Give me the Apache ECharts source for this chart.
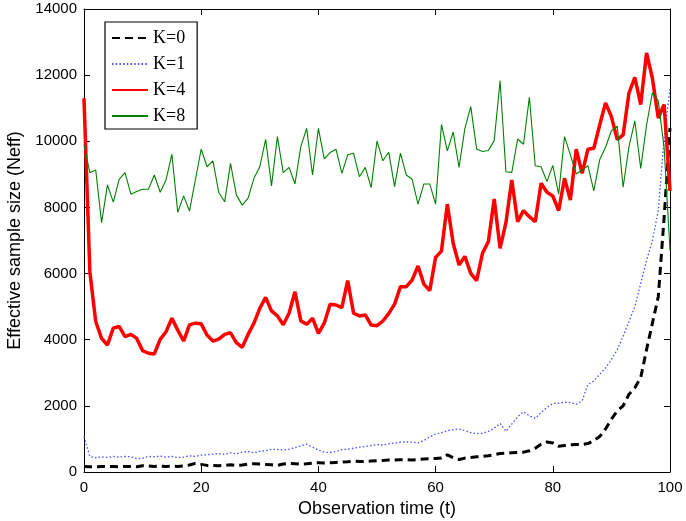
<!DOCTYPE html>
<html>
<head>
<meta charset="utf-8">
<script src="https://cdn.jsdelivr.net/npm/echarts@6/dist/echarts.min.js"></script>
<style>html,body{margin:0;padding:0;background:#fff}#c{width:686px;height:521px}</style>
</head>
<body>
<div id="c"></div>
<script>
var xTicks = [0, 20, 40, 60, 80, 100];
var yTicks = [0, 2000, 4000, 6000, 8000, 10000, 12000, 14000];
var seriesNames = ['K=0', 'K=1', 'K=4', 'K=8'];

var k0 = [170,160,160,170,160,170,160,170,170,160,190,180,170,180,170,180,170,180,210,260,
  230,200,200,190,200,220,200,210,240,250,240,230,220,200,240,260,250,240,250,270,
  280,270,280,290,300,310,330,320,320,330,340,350,360,360,370,370,360,380,390,400,
  410,420,520,430,380,420,440,460,470,490,520,560,570,580,590,600,640,720,840,910,
  880,780,800,820,830,830,860,950,1070,1300,1600,1850,2000,2350,2550,2850,3700,4500,5300,7700,
  10400];
var k1 = [1070,470,430,460,440,470,450,470,460,400,420,470,460,480,450,470,440,450,490,470,
  510,520,540,560,530,580,550,600,620,580,630,640,690,680,670,690,740,790,840,750,
  660,600,590,620,680,690,720,750,770,800,830,810,850,880,900,910,900,880,950,1060,
  1150,1180,1250,1280,1300,1250,1190,1160,1170,1230,1320,1470,1230,1450,1670,1820,1700,1620,1800,1950,
  2070,2080,2110,2100,2050,2150,2650,2750,2950,3150,3400,3700,4100,4550,5000,5700,6400,7000,7900,10100,
  11600];
var k4 = [11300,6050,4550,4040,3840,4350,4400,4090,4160,4040,3670,3590,3570,4010,4240,4650,4290,3960,4450,4500,
  4480,4140,3960,4020,4160,4210,3910,3770,4160,4500,4950,5280,4870,4720,4450,4800,5450,4570,4470,4650,
  4190,4500,5070,5050,4970,5790,4800,4720,4750,4445,4424,4566,4790,5075,5604,5604,5806,6229,5680,5483,
  6490,6680,8100,6915,6260,6520,6008,5785,6613,6965,8256,6764,7540,8830,7570,7903,7721,7570,8730,8458,
  8346,7903,8881,8225,9758,9032,9758,9788,10493,11160,10745,10050,10191,11460,11930,11110,12670,11900,10705,11110,
  8500];
var k8 = [9900,9050,9130,7540,8680,8160,8850,9050,8400,8480,8550,8550,8980,8460,8830,9610,7850,8350,7890,8830,
  9760,9230,9410,8450,8170,9330,8380,8070,8280,8880,9230,10060,8650,10140,9050,9210,8710,9840,10390,8980,
  10390,9470,9660,9760,9030,9590,9640,8930,9210,8600,10010,9410,9670,8630,9640,8980,8850,8100,8710,8710,
  8100,10510,9710,10280,9210,10390,11050,9770,9690,9720,10020,11830,9080,9060,10070,9910,11330,9260,9230,8780,
  9270,8400,10140,9590,9010,9130,9260,8500,9440,9820,10320,10460,8610,9840,10620,9180,10490,11470,11220,9800,
  6700];

function pairs(arr) { return arr.map(function (v, i) { return [i, v]; }); }

var sansFont = 'Liberation Sans';
var chart = echarts.init(document.getElementById('c'), null, {renderer: 'canvas'});
var tickStyle = {show: true, inside: true, length: 6, lineStyle: {color: '#000', width: 1}};
var lineStyleAxis = {show: true, onZero: false, lineStyle: {color: '#000', width: 1}};

chart.setOption({
  backgroundColor: '#fff',
  animation: false,
  grid: {left: 84, right: 16, top: 9, bottom: 49, containLabel: false, outerBoundsMode: 'none'},
  legend: {
    show: true,
    orient: 'vertical',
    left: 105,
    top: 22,
    data: seriesNames,
    backgroundColor: '#fff',
    borderColor: '#000',
    borderWidth: 1.2,
    padding: [7, 12, 4, 6],
    itemWidth: 36,
    itemHeight: 14,
    itemGap: 8,
    itemStyle: {opacity: 0},
    textStyle: {fontFamily: 'Liberation Serif', fontSize: 18, color: '#000', lineHeight: 17}
  },
  xAxis: [{
    type: 'value', min: xTicks[0], max: xTicks[xTicks.length - 1], interval: 20,
    position: 'bottom',
    name: 'Observation time (t)', nameLocation: 'middle', nameGap: 24,
    nameTextStyle: {fontFamily: sansFont, fontSize: 18, color: '#000'},
    axisLine: lineStyleAxis, axisTick: tickStyle,
    axisLabel: {fontFamily: sansFont, fontSize: 15, color: '#000', margin: 8, formatter: function (v) { return String(v); }},
    splitLine: {show: false}
  }, {
    type: 'value', min: xTicks[0], max: xTicks[xTicks.length - 1], interval: 20,
    position: 'top',
    axisLine: lineStyleAxis, axisTick: tickStyle,
    axisLabel: {show: false}, splitLine: {show: false}
  }],
  yAxis: [{
    type: 'value', min: yTicks[0], max: yTicks[yTicks.length - 1], interval: 2000,
    position: 'left',
    name: 'Effective sample size (Neff)', nameLocation: 'middle', nameGap: 52,
    nameTextStyle: {fontFamily: sansFont, fontSize: 18, color: '#000'},
    axisLine: lineStyleAxis, axisTick: tickStyle,
    axisLabel: {fontFamily: sansFont, fontSize: 15, color: '#000', margin: 7, formatter: function (v) { return String(v); }},
    splitLine: {show: false}
  }, {
    type: 'value', min: yTicks[0], max: yTicks[yTicks.length - 1], interval: 2000,
    position: 'right',
    axisLine: lineStyleAxis, axisTick: tickStyle,
    axisLabel: {show: false}, splitLine: {show: false}
  }],
  series: [{
    name: 'K=0', type: 'line', data: pairs(k0), showSymbol: false, symbol: 'none',
    lineStyle: {color: '#000', width: 3, type: [8, 5]}, itemStyle: {color: '#000'}, z: 4
  }, {
    name: 'K=1', type: 'line', data: pairs(k1), showSymbol: false, symbol: 'none',
    lineStyle: {color: '#4a4aff', width: 1.3, type: [1.5, 2.2]}, itemStyle: {color: '#4a4aff'}, z: 3
  }, {
    name: 'K=4', type: 'line', data: pairs(k4), showSymbol: false, symbol: 'none',
    lineStyle: {color: '#ff0000', width: 3.5}, itemStyle: {color: '#ff0000'}, z: 5
  }, {
    name: 'K=8', type: 'line', data: pairs(k8), showSymbol: false, symbol: 'none',
    lineStyle: {color: '#008000', width: 1.1}, itemStyle: {color: '#008000'}, z: 6
  }]
});
</script>
</body>
</html>
